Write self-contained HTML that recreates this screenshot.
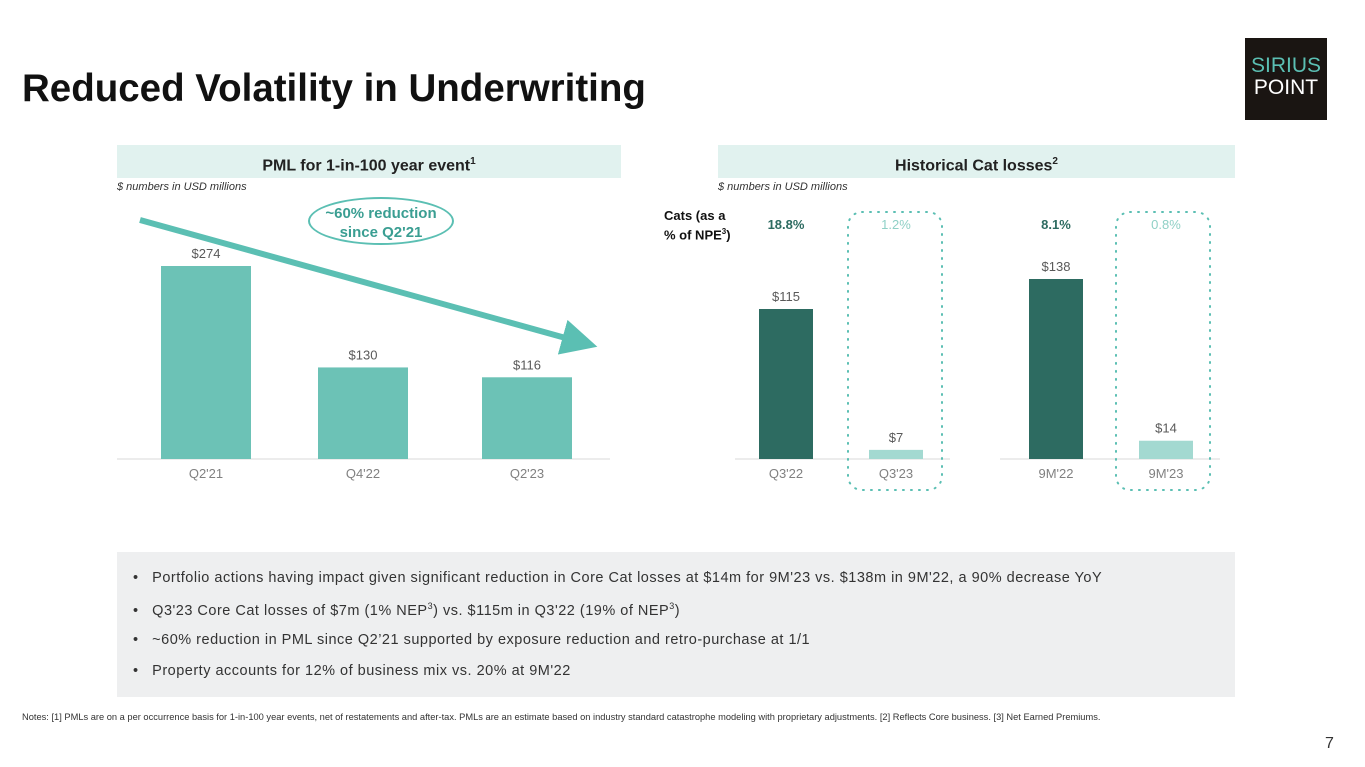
<!DOCTYPE html>
<html><head><meta charset="utf-8"><style>
body{margin:0;width:1365px;height:767px;background:#fff;font-family:"Liberation Sans",sans-serif;position:relative;overflow:hidden}
.a{position:absolute}
.hdr{background:#e1f2ef;height:33px;line-height:33px;text-align:center;font-weight:bold;font-size:16px;color:#222}
.note{font-size:11px;font-style:italic;color:#333}
.bul{font-size:14.5px;letter-spacing:0.5px;color:#333;position:absolute;left:133px}
</style></head><body>
<div class="a" style="left:22px;top:67px;font-size:38.5px;font-weight:bold;color:#111">Reduced Volatility in Underwriting</div>
<div class="a" style="left:1245px;top:38px;width:82px;height:82px;background:#1a1512;text-align:center;font-size:21px;line-height:22px;padding-top:17px;box-sizing:border-box"><span style="color:#5bbfb3">SIRIUS</span><br><span style="color:#fff">POINT</span></div>
<div class="a hdr" style="left:117px;top:145px;width:504px">PML for 1-in-100 year event<sup style="font-size:10px">1</sup></div>
<div class="a hdr" style="left:718px;top:145px;width:517px">Historical Cat losses<sup style="font-size:10px">2</sup></div>
<div class="a note" style="left:117px;top:181px">$ numbers in USD millions</div>
<div class="a note" style="left:718px;top:181px">$ numbers in USD millions</div>
<svg class="a" style="left:0;top:0" width="1365" height="767" id="ch">
<defs><marker id="ar" markerWidth="6" markerHeight="6" refX="3" refY="3" orient="auto"><path d="M0,0L6,3L0,6z" fill="#5bbfb3"/></marker></defs>
</svg>
<div class="a" style="left:308px;top:197px;width:146px;height:48px;border:2px solid #5bbfb3;border-radius:50%;background:#fff;text-align:center;font-weight:bold;font-size:15px;line-height:19px;color:#3a9e92;padding-top:5px;box-sizing:border-box">~60% reduction<br>since Q2'21</div>
<div class="a" style="left:664px;top:208px;font-weight:bold;font-size:13px;line-height:16px;color:#111">Cats (as a<br>% of NPE<sup style="font-size:8px">3</sup>)</div>
<div class="a" style="left:117px;top:552px;width:1118px;height:145px;background:#eeeff0"></div>
<div class="bul" style="top:570px">•&nbsp;&nbsp;&nbsp;Portfolio actions having impact given significant reduction in Core Cat losses at $14m for 9M'23 vs. $138m in 9M'22, a 90% decrease YoY</div>
<div class="bul" style="top:601px">•&nbsp;&nbsp;&nbsp;Q3'23 Core Cat losses of $7m (1% NEP<sup style="font-size:9px">3</sup>) vs. $115m in Q3'22 (19% of NEP<sup style="font-size:9px">3</sup>)</div>
<div class="bul" style="top:632px">•&nbsp;&nbsp;&nbsp;~60% reduction in PML since Q2’21 supported by exposure reduction and retro-purchase at 1/1</div>
<div class="bul" style="top:663px">•&nbsp;&nbsp;&nbsp;Property accounts for 12% of business mix vs. 20% at 9M'22</div>
<div class="a" style="left:22px;top:712px;font-size:9.3px;color:#333">Notes: [1] PMLs are on a per occurrence basis for 1-in-100 year events, net of restatements and after-tax. PMLs are an estimate based on industry standard catastrophe modeling with proprietary adjustments. [2] Reflects Core business. [3] Net Earned Premiums.</div>
<div class="a" style="left:1325px;top:735px;font-size:16px;color:#333">7</div>
<script>
const pmlCats=["Q2'21","Q4'22","Q2'23"];
const pmlVals=[274,130,116];
const catCats=["Q3'22","Q3'23","9M'22","9M'23"];
const catVals=[115,7,138,14];
const catPcts=["18.8%","1.2%","8.1%","0.8%"];
const svg=document.getElementById('ch');const NS='http://www.w3.org/2000/svg';
function el(t,a,txt){const e=document.createElementNS(NS,t);for(const k in a)e.setAttribute(k,a[k]);if(txt!=null)e.textContent=txt;svg.appendChild(e);return e;}
const base=459;
const yL=v=>base-v*193/274, yR=v=>base-v*180/138;
let e=el('line',{x1:117,x2:610,y1:base,y2:base,stroke:'#d9d9d9'});

const xL=[206,363,527];
pmlVals.forEach((v,i)=>{
 let r=el('rect',{x:xL[i]-45,y:yL(v),width:90,height:base-yL(v),fill:'#6cc2b6'});
 
 let t=el('text',{x:xL[i],y:yL(v)-8,'text-anchor':'middle','font-size':13,fill:'#595959'},'$'+v);
 
 let c=el('text',{x:xL[i],y:478,'text-anchor':'middle','font-size':13,fill:'#808080'},pmlCats[i]);
 
});
e=el('line',{x1:140,y1:220,x2:580,y2:342,stroke:'#5bbfb3','stroke-width':6,'marker-end':'url(#ar)'});

[[735,950],[1000,1220]].forEach((p,i)=>{let l=el('line',{x1:p[0],x2:p[1],y1:base,y2:base,stroke:'#d9d9d9'});
 });
[848,1116].forEach((x,i)=>{let b=el('rect',{x:x,y:212,width:94,height:278,rx:14,fill:'none',stroke:'#5bbfb3','stroke-width':2,'stroke-dasharray':'1 7','stroke-linecap':'round'});
 });
const xR=[786,896,1056,1166];
catVals.forEach((v,i)=>{
 const dark=i%2==0;
 let r=el('rect',{x:xR[i]-27,y:yR(v),width:54,height:base-yR(v),fill:dark?'#2d6b61':'#a3d9d1'});
 
 let t=el('text',{x:xR[i],y:yR(v)-8,'text-anchor':'middle','font-size':13,fill:'#595959'},'$'+v);
 
 let c=el('text',{x:xR[i],y:478,'text-anchor':'middle','font-size':13,fill:'#808080'},catCats[i]);
 
 let p=el('text',{x:xR[i],y:229,'text-anchor':'middle','font-size':13,'font-weight':dark?'bold':'normal',fill:dark?'#2d6b61':'#8fd0c6'},catPcts[i]);
 
});
</script>
</body></html>
